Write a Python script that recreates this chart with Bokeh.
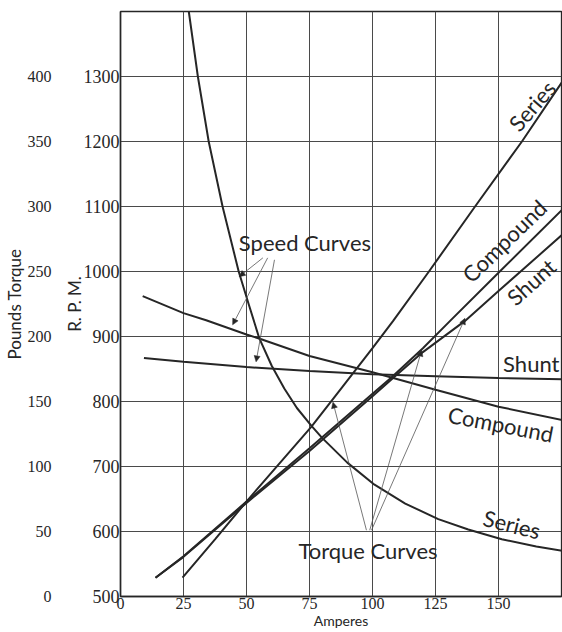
from bokeh.plotting import figure
from bokeh.models import Range1d, LinearAxis, FixedTicker, Arrow, NormalHead, ColumnDataSource
from bokeh.core.properties import value
from bokeh.embed import file_html
from bokeh.resources import INLINE

# ---------------- data ----------------
amp_ticks = [0, 25, 50, 75, 100, 125, 150]
amp_grid = [0, 25, 50, 75, 100, 125, 150, 175]
rpm_ticks = [500, 600, 700, 800, 900, 1000, 1100, 1200, 1300]
rpm_grid = [500, 600, 700, 800, 900, 1000, 1100, 1200, 1300, 1400]
torque_ticks = [0, 50, 100, 150, 200, 250, 300, 350, 400]

# Speed curves (R.P.M. vs Amperes)
series_speed_amps = [27.1, 30.7, 35, 40.5, 46.9, 51, 55.1, 60, 65, 70, 75.7, 80, 90, 100.8, 113, 126.1, 138, 151.3, 165, 176]
series_speed_rpm = [1400, 1300, 1200, 1100, 1000, 948, 897, 855, 820, 790, 763, 744, 706, 672, 643, 619, 603, 588, 577, 570]
shunt_speed_amps = [9.3, 25, 50, 75, 100, 125, 150, 176]
shunt_speed_rpm = [867, 861, 853, 847, 842, 839, 836, 834]
compound_speed_amps = [8.8, 25, 34, 50, 55, 75, 100, 125, 150, 176]
compound_speed_rpm = [962, 936, 925, 903, 897, 870, 845, 818, 792, 771]

# Torque curves (pounds torque vs Amperes)
series_torque_amps = [24.6, 37.5, 50.4, 62.5, 75.7, 88, 100, 108.2, 122.4, 140.7, 159.3, 176]
series_torque_lb = [14.5, 44, 74, 101, 130.5, 161, 191, 212, 250, 300, 350, 398]
compound_torque_amps = [13.9, 25, 50, 75, 100, 107.5, 120, 130.8, 150, 176]
compound_torque_lb = [14.4, 31, 73, 114, 156, 168.5, 191, 212, 249, 299]
shunt_torque_amps = [13.9, 25, 50, 75, 100, 107.5, 120, 136.7, 150, 176]
shunt_torque_lb = [14.4, 30.5, 72, 112, 154, 167, 188, 212, 235, 279.5]

# Text labels (anchor in amps / rpm)
label_text = ["Speed Curves", "Torque Curves", "Shunt", "Compound", "Series", "Series", "Compound", "Shunt"]
label_amps = [73.2, 98.2, 163.0, 150.9, 155.3, 163.3, 152.3, 163.0]
label_rpm = [1045, 571, 859, 765, 611, 1255, 1047, 984]
label_angle = [0, 0, 0, -11, -14, 49, 44, 42]

# Leader lines (start amps, start rpm, end amps, end rpm)
leader_x0 = [56.5, 58.4, 61.1, 97.6, 98.9, 99.6]
leader_y0 = [1021, 1021, 1018, 602, 602, 602]
leader_x1 = [47.1, 44.5, 53.8, 84.3, 119.5, 136.7]
leader_y1 = [992, 918, 861, 799, 879, 928]

INK = "#262626"
GRID = "#4a4a4a"

p = figure(width=562, height=632, output_backend="svg", toolbar_location=None,
           x_range=Range1d(0, 175), y_range=Range1d(500, 1400),
           min_border_left=120, min_border_right=1, min_border_top=11, min_border_bottom=36,
           background_fill_color="white", border_fill_color="white")
p.outline_line_color = INK
p.outline_line_width = 1.3

p.extra_y_ranges = {"torque": Range1d(0, 450)}

# grid
p.xgrid.ticker = FixedTicker(ticks=amp_grid)
p.ygrid.ticker = FixedTicker(ticks=rpm_grid)
for g in (p.xgrid, p.ygrid):
    g.grid_line_color = GRID
    g.grid_line_width = 1

# axes
lab_font = value("Lato")

xa = p.xaxis[0]
xa.ticker = FixedTicker(ticks=amp_ticks)
xa.axis_label = "Amperes"

ya = p.yaxis[0]
ya.ticker = FixedTicker(ticks=rpm_ticks)
ya.axis_label = "R. P. M."

ta = LinearAxis(y_range_name="torque", ticker=FixedTicker(ticks=torque_ticks), axis_label="Pounds Torque")
p.add_layout(ta, "left")

for ax in (xa, ya, ta):
    ax.major_tick_out = 0
    ax.major_tick_in = 0
    ax.minor_tick_out = 0
    ax.minor_tick_in = 0
    ax.major_label_text_font = "Liberation Serif"
    ax.major_label_text_color = INK
    ax.axis_label_text_font = "Lato"
    ax.axis_label_text_font_style = "normal"
    ax.axis_label_text_color = INK
    ax.axis_line_color = INK
    ax.axis_line_width = 1.5

xa.major_label_text_font_size = "16px"
ya.major_label_text_font_size = "18px"
ta.major_label_text_font_size = "16px"
xa.axis_label_text_font_size = "14px"
ya.axis_label_text_font_size = "17px"
ta.axis_label_text_font_size = "17px"

xa.major_label_standoff = 1
xa.axis_label_standoff = 0
ya.major_label_standoff = 1
ya.axis_label_standoff = -4
ta.axis_line_color = None
ta.major_label_standoff = 9
ta.axis_label_standoff = 0

# curves
lw = 2.0
p.line(series_speed_amps, series_speed_rpm, line_color=INK, line_width=lw)
p.line(shunt_speed_amps, shunt_speed_rpm, line_color=INK, line_width=lw)
p.line(compound_speed_amps, compound_speed_rpm, line_color=INK, line_width=lw)
p.line(series_torque_amps, series_torque_lb, line_color=INK, line_width=lw, y_range_name="torque")
p.line(compound_torque_amps, compound_torque_lb, line_color=INK, line_width=lw, y_range_name="torque")
p.line(shunt_torque_amps, shunt_torque_lb, line_color=INK, line_width=lw, y_range_name="torque")

# labels
src = ColumnDataSource(dict(x=label_amps, y=label_rpm, t=label_text, a=label_angle))
p.text(x="x", y="y", text="t", angle="a", angle_units="deg", source=src,
       text_font=lab_font, text_font_size="22px", text_color=INK,
       text_align="center", text_baseline="middle")

# leader lines with arrows
for x0, y0, x1, y1 in zip(leader_x0, leader_y0, leader_x1, leader_y1):
    p.add_layout(Arrow(x_start=x0, y_start=y0, x_end=x1, y_end=y1,
                       line_color="#555555", line_width=0.8,
                       end=NormalHead(size=6, fill_color=INK, line_color=INK, line_width=0.5)))

open("out.html", "w").write(file_html(p, INLINE))
